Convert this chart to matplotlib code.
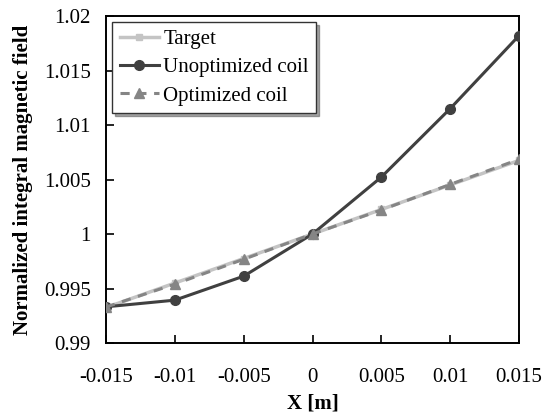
import matplotlib
matplotlib.use("Agg")
import matplotlib.pyplot as plt

plt.rcParams["font.family"] = ["Liberation Serif", "DejaVu Serif"]

x = [-0.015, -0.01, -0.005, 0, 0.005, 0.01, 0.015]
target = [0.99325, 0.99550, 0.99775, 1.0, 1.00225, 1.00450, 1.00675]
unoptimized = [0.99332, 0.99393, 0.99613, 1.0, 1.00522, 1.01150, 1.01820]
optimized = [0.99330, 0.99540, 0.99768, 1.0, 1.00220, 1.00455, 1.00685]
xticks = [-0.015, -0.01, -0.005, 0, 0.005, 0.01, 0.015]
xticklabels = ["-0.015", "-0.01", "-0.005", "0", "0.005", "0.01", "0.015"]
yticks = [0.99, 0.995, 1.0, 1.005, 1.01, 1.015, 1.02]
yticklabels = ["0.99", "0.995", "1", "1.005", "1.01", "1.015", "1.02"]

fig = plt.figure(figsize=(5.52, 4.19), dpi=100)
ax = fig.add_axes([106 / 552, 1 - 343 / 419, 413 / 552, 327 / 419])

ax.plot(x, target, color="#c4c4c4", lw=2.5, marker="s", ms=5, label="Target", zorder=2)
ax.plot(x, unoptimized, color="#404040", lw=2.2, marker="o", ms=7, label="Unoptimized coil", zorder=3)
ax.plot(x, optimized, color="#858585", lw=2.2, ls=(0, (3, 2.5)), marker="^", ms=7,
        label="Optimized coil", zorder=4)

ax.set_xlim(-0.015, 0.015)
ax.set_ylim(0.99, 1.02)
ax.set_xticks(xticks); ax.set_xticklabels(xticklabels, fontsize=15)
ax.set_yticks(yticks); ax.set_yticklabels(yticklabels, fontsize=15)
ax.tick_params(direction="in", length=6, width=1.2)
ax.tick_params(axis="x", pad=18)
ax.tick_params(axis="y", pad=11)
for s in ax.spines.values():
    s.set_linewidth(1.4)
ax.set_xlabel("X [m]", fontsize=15, fontweight="bold", labelpad=5)
ax.set_ylabel("Normalized integral magnetic field", fontsize=15, fontweight="bold", labelpad=8)

leg = ax.legend(loc="upper left", fontsize=15, frameon=True, fancybox=False, shadow=True,
                handlelength=1.9, handletextpad=0.2, borderpad=0.35, labelspacing=0.42,
                borderaxespad=0.3)
leg.get_frame().set_edgecolor("#333333")
leg.get_frame().set_linewidth(1.0)

fig.savefig("out.png", dpi=100)
